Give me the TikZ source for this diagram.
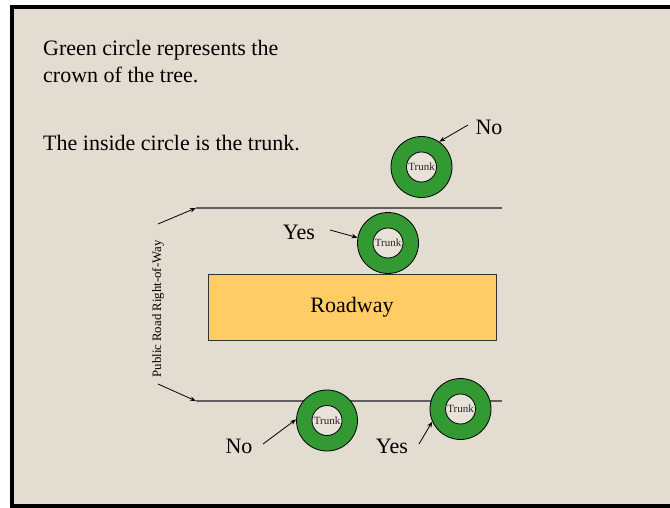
\documentclass[tikz,border=0pt]{standalone}
\usepackage{fontspec}
\setmainfont{Liberation Serif}
\usetikzlibrary{arrows.meta}
\definecolor{bg}{HTML}{E3DCD0}
\definecolor{innerbg}{HTML}{E8E2D8}
\definecolor{ringgreen}{HTML}{339933}
\definecolor{road}{HTML}{FFCC66}
\definecolor{rowline}{HTML}{606060}
\begin{document}
\begin{tikzpicture}[x=1pt,y=-1pt,
  txt/.style={font=\fontsize{22}{26}\selectfont, inner sep=0pt, anchor=base west},
  lbl/.style={font=\fontsize{22}{26}\selectfont, inner sep=0pt},
  ring/.style={circle, draw=black, line width=0.8pt, fill=ringgreen, minimum size=61pt, inner sep=0pt},
  trunkc/.style={circle, draw=black, line width=0.8pt, fill=innerbg, minimum size=30pt, inner sep=0pt, font=\fontsize{11}{11}\selectfont, text=black!85},
  roadbox/.style={rectangle, draw=black!80, line width=0.8pt, fill=road, minimum width=288pt, minimum height=66pt, inner sep=0pt, font=\fontsize{22}{26}\selectfont},
  boundary/.style={draw=rowline, line width=2pt},
  arr/.style={-{Stealth[length=6pt,width=4.5pt]}, line width=0.8pt, draw=black}
]
\useasboundingbox (0,0) rectangle (670,508);
\clip (0,0) rectangle (670,508);
\fill[white] (0,0) rectangle (670,508);
\fill[bg] (12,7) rectangle (690,506);
\draw[line width=4pt] (12,7) rectangle (690,506);

% texts
\node[txt] (t1) at (43,56) {Green circle represents the};
\node[txt] (t2) at (43,83) {crown of the tree.};
\node[txt] (t3) at (43,151) {The inside circle is the trunk.};

% right-of-way boundary lines
\coordinate (l1a) at (196,208);
\coordinate (l1b) at (502,208);
\coordinate (l2a) at (196,401);
\coordinate (l2b) at (502,401);
\draw[boundary] (l1a) -- (l1b);
\draw[boundary] (l2a) -- (l2b);

% roadway
\node[roadbox] (road) at (352,307) {Roadway};

% right-of-way label and arrows
\node[rotate=90, font=\fontsize{12.8}{13}\selectfont, inner sep=0pt] (row) at (158,309) {Public Road Right-of-Way};
\coordinate (a1) at (158,224);
\coordinate (a2) at (158,384);
\draw[arr] (a1) -- (l1a);
\draw[arr] (a2) -- (l2a);

% trees
\node[ring] (r1) at (421.5,167) {};
\node[trunkc] (k1) at (421.5,167) {Trunk};
\node[ring] (r2) at (388,243) {};
\node[trunkc] (k2) at (388,243) {Trunk};
\node[ring] (r3) at (327,420.5) {};
\node[trunkc] (k3) at (327,420.5) {Trunk};
\node[ring] (r4) at (460.5,409) {};
\node[trunkc] (k4) at (460.5,409) {Trunk};

% labels and arrows
\node[lbl] (no1) at (489,127) {No};
\coordinate (s1) at (468,125);
\draw[arr] (s1) -- (r1.55);

\node[lbl] (yes1) at (299,232) {Yes};
\coordinate (s2) at (330,230);
\draw[arr] (s2) -- (r2.170);

\node[lbl] (no2) at (239,446) {No};
\coordinate (s3) at (263,444);
\draw[arr] (s3) -- (r3.178);

\node[lbl] (yes2) at (392,446) {Yes};
\coordinate (s4) at (419,444);
\draw[arr] (s4) -- (r4.204);
\end{tikzpicture}
\end{document}
